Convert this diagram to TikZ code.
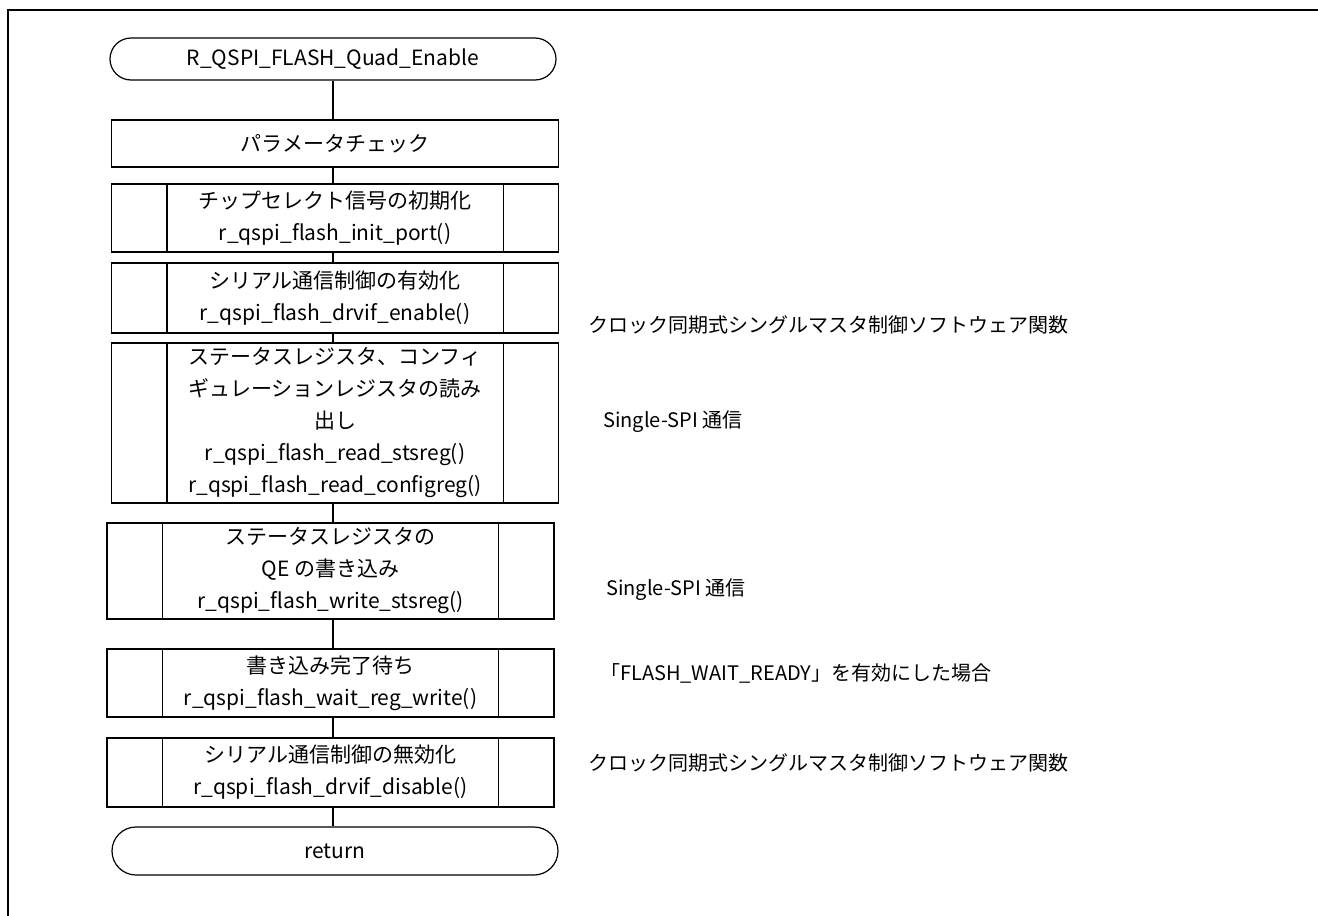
\documentclass[tikz,border=0pt]{standalone}
\usepackage{xcolor}
\usepackage{fontspec}
\setmainfont{Noto Sans CJK JP}
\usepackage{tikz}
\usetikzlibrary{positioning}
\usetikzlibrary{calc}
\tikzset{
  proc/.style={draw, line width=1.2pt, minimum width=447pt, align=center, inner sep=0pt, font=\fontsize{21}{32}\selectfont},
  term/.style={proc, minimum width=446pt},
  note/.style={anchor=west, inner sep=0pt, font=\fontsize{20}{24}\selectfont}
}

\begin{document}
\begin{tikzpicture}[x=1pt,y=-1pt]
  \useasboundingbox (0,0) rectangle (1318,916);
  \draw[line width=2.6pt] (8,930) -- (8,10) -- (1330,10);

  \node[term, minimum height=42pt, rounded corners=21pt] (start) at (333,59) {R\_QSPI\_FLASH\_Quad\_Enable};
  \node[proc, minimum height=47pt] (check) at (335,143.5) {パラメータチェック};
  \node[proc, minimum height=68pt] (init) at (335,218) {チップセレクト信号の初期化\\r\_qspi\_flash\_init\_port()};
  \node[proc, minimum height=70pt] (enable) at (335,298) {シリアル通信制御の有効化\\r\_qspi\_flash\_drvif\_enable()};
  \node[proc, minimum height=160pt] (readreg) at (335,423) {ステータスレジスタ、コンフィ\\ギュレーションレジスタの読み\\出し\\r\_qspi\_flash\_read\_stsreg()\\r\_qspi\_flash\_read\_configreg()};
  \node[proc, minimum height=96pt] (writeqe) at (330.5,571) {ステータスレジスタの\\QE の書き込み\\r\_qspi\_flash\_write\_stsreg()};
  \node[proc, minimum height=68pt] (wait) at (330.5,683) {書き込み完了待ち\\r\_qspi\_flash\_wait\_reg\_write()};
  \node[proc, minimum height=69pt] (disable) at (330.5,772.5) {シリアル通信制御の無効化\\r\_qspi\_flash\_drvif\_disable()};
  \node[term, minimum height=48pt, rounded corners=24pt] (ret) at (335,851) {return};

  \foreach \n in {init,enable,readreg,writeqe,wait,disable} {
    \draw[line width=1.2pt] ([xshift=56pt]\n.north west) -- ([xshift=56pt]\n.south west);
    \draw[line width=1.2pt] ([xshift=-56pt]\n.north east) -- ([xshift=-56pt]\n.south east);
  }
  \foreach \a/\b in {start/check,check/init,init/enable,enable/readreg,readreg/writeqe,writeqe/wait,wait/disable,disable/ret}
    \draw[line width=1.2pt] (\a.south -| start) -- (\b.north -| start);

  \node[note] (clk1) at (588,325) {クロック同期式シングルマスタ制御ソフトウェア関数};
  \node[note] (spi1) at (603,422) {Single-SPI 通信};
  \node[note] (spi2) at (606,590) {Single-SPI 通信};
  \node[note] (flash) at (600,673) {「FLASH\_WAIT\_READY」を有効にした場合};
  \node[note] (clk2) at (588,763) {クロック同期式シングルマスタ制御ソフトウェア関数};
\end{tikzpicture}
\end{document}
